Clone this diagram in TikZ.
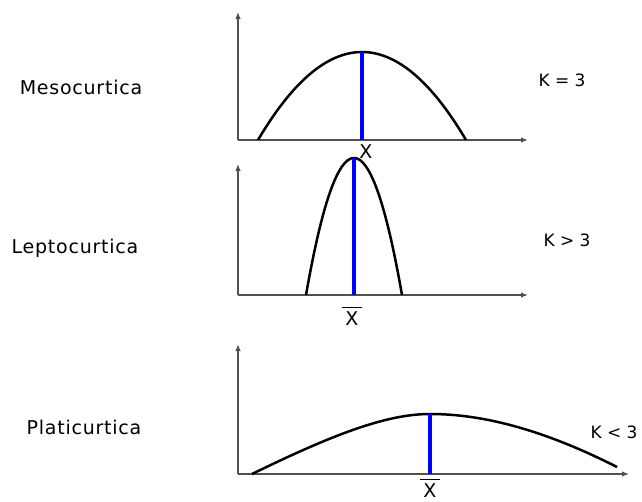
\documentclass[tikz,border=0pt]{standalone}
\usepackage{fontspec}
\setmainfont{DejaVu Sans}
\usepackage{tikz}
\usetikzlibrary{arrows.meta,positioning}

\definecolor{axisgray}{RGB}{80,80,80}

\newcommand{\meanx}{$\overline{\mbox{\,X\,}\rule{0pt}{1.65ex}}$}

\begin{document}
\begin{tikzpicture}[
  x=1pt, y=-1pt,
  axis/.style={-{Latex[length=7pt,width=5.5pt]}, axisgray, line width=1.3pt},
  curve/.style={black, line width=2.5pt},
  mean/.style={blue, line width=3.6pt},
  label/.style={font=\addfontfeatures{LetterSpace=4}\fontsize{19}{22}\selectfont, inner sep=0pt},
  kval/.style={font=\fontsize{17}{20}\selectfont, inner sep=0pt},
  xbar/.style={font=\fontsize{19}{22}\selectfont, inner sep=0pt},
]
\useasboundingbox (0,0) rectangle (642,502);

% Mesocurtica
\coordinate (o1) at (238,140);
\draw[axis] (o1) -- (238,12);
\draw[axis] (o1) -- (528,140);
\draw[curve] plot[domain=-1:1, samples=60, smooth] ({362+104*\x},{140-88*(1-\x*\x)});
\coordinate (m1) at (362,52);
\draw[mean] (m1) -- (362,140);
\node[label] (meso) at (81,87) {Mesocurtica};
\node[kval] (k1) at (562,80) {K = 3};
\node[xbar] (x1) at (366,152) {X};

% Leptocurtica
\coordinate (o2) at (238,295);
\draw[axis] (o2) -- (238,164);
\draw[axis] (o2) -- (528,295);
\draw[curve] plot[domain=-1:1, samples=60, smooth] ({354+48*\x},{295-137*(1-\x*\x)});
\coordinate (m2) at (354,158);
\draw[mean] (m2) -- (354,295);
\node[label] (lepto) at (75,248) {Leptocurtica};
\node[kval] (k2) at (567,240) {K > 3};
\node[xbar, anchor=south] (x2) at (352,326) {\meanx};

% Platicurtica
\coordinate (o3) at (238,474);
\draw[axis] (o3) -- (238,344);
\draw[axis] (o3) -- (629,474);
\draw[curve] (252,474) .. controls (330,436) and (385,414) .. (430,414)
  .. controls (480,414) and (540,428) .. (617,467);
\coordinate (m3) at (430,414);
\draw[mean] (m3) -- (430,474);
\node[label] (plati) at (84,427) {Platicurtica};
\node[kval] (k3) at (614,432) {K < 3};
\node[xbar, anchor=south] (x3) at (430,498) {\meanx};
\end{tikzpicture}
\end{document}
